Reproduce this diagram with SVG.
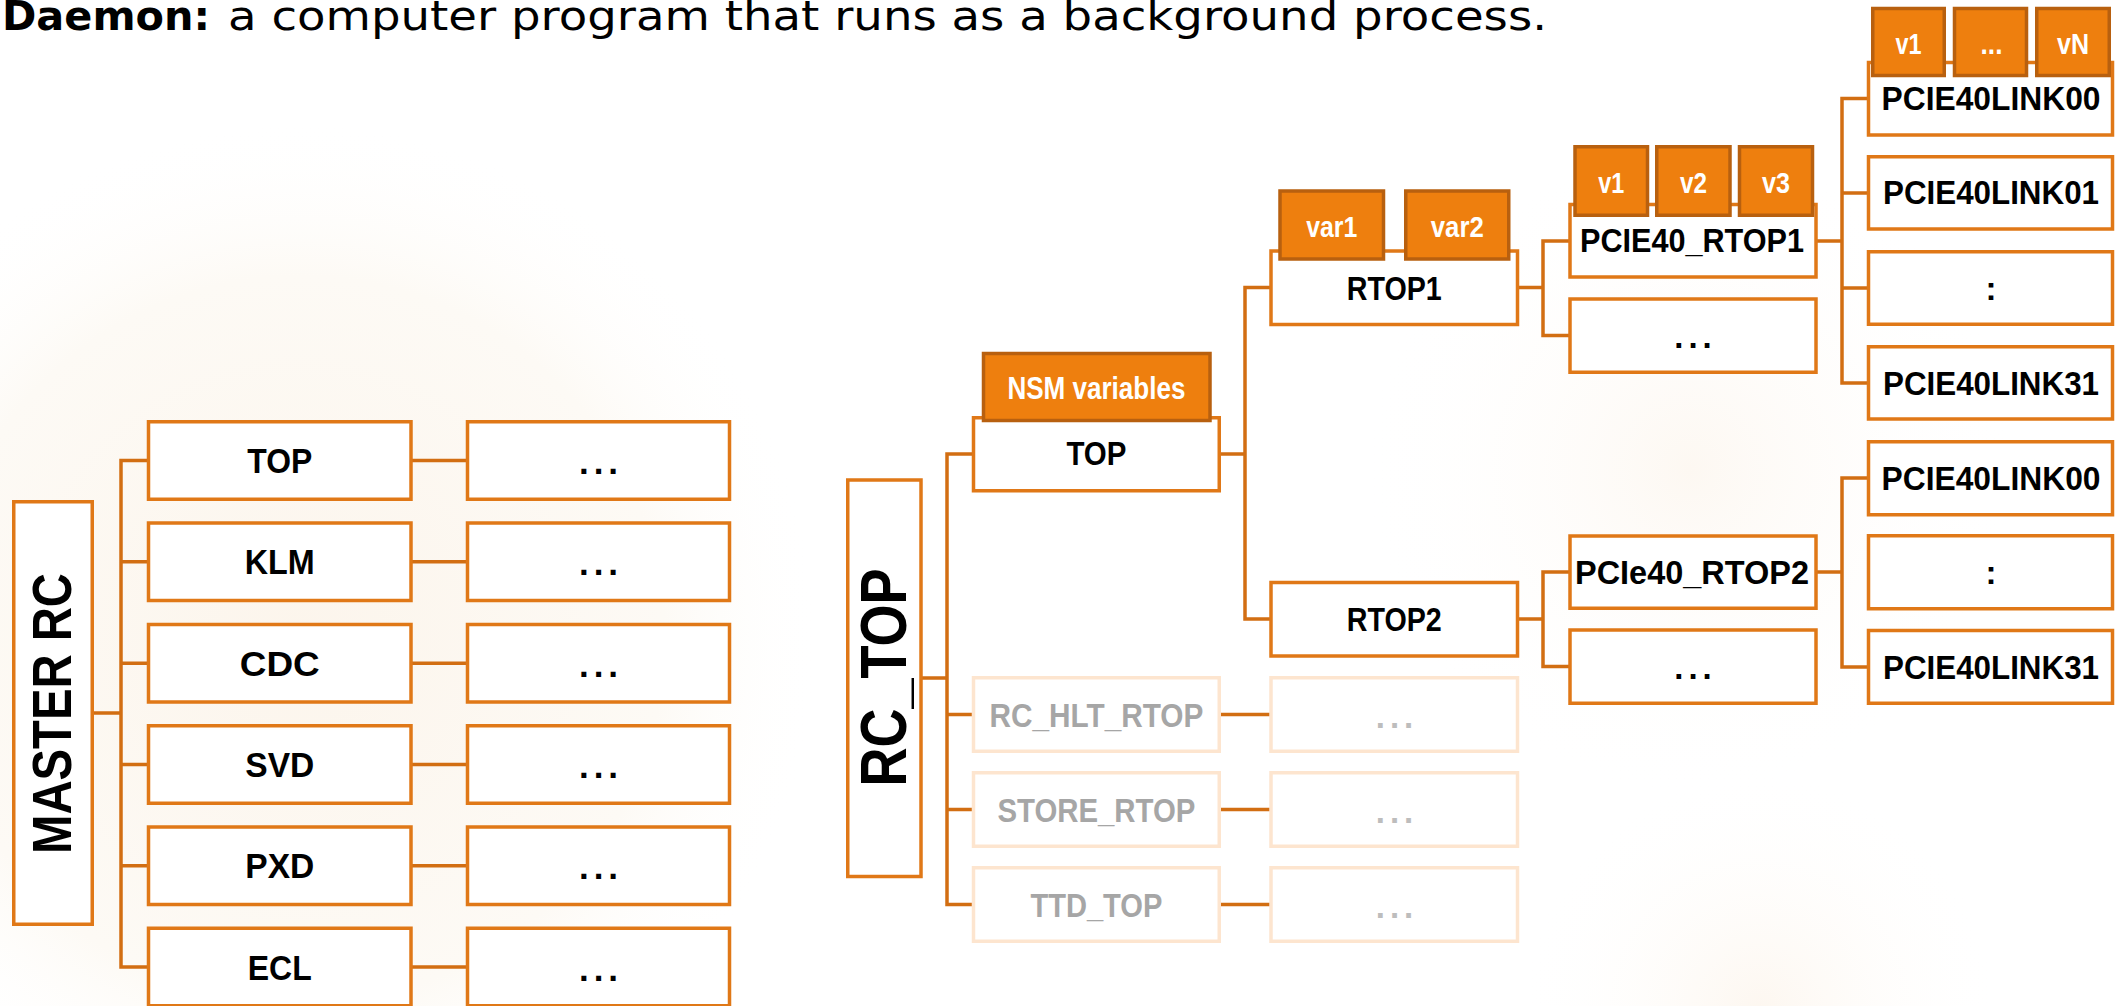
<svg xmlns="http://www.w3.org/2000/svg" width="2116" height="1006" viewBox="0 0 2116 1006">
<defs>
<radialGradient id="glowL" cx="300" cy="640" r="520" gradientUnits="userSpaceOnUse">
<stop offset="0" stop-color="#FCF5EC"/>
<stop offset="0.7" stop-color="#FDFAF5"/>
<stop offset="1" stop-color="#FFFFFF" stop-opacity="0"/>
</radialGradient>
<radialGradient id="glowR" cx="1690" cy="470" r="330" gradientUnits="userSpaceOnUse">
<stop offset="0" stop-color="#FDF8F2"/>
<stop offset="1" stop-color="#FFFFFF" stop-opacity="0"/>
</radialGradient>
<radialGradient id="glowB" cx="1760" cy="1010" r="240" gradientUnits="userSpaceOnUse">
<stop offset="0" stop-color="#FDF7F0"/>
<stop offset="1" stop-color="#FFFFFF" stop-opacity="0"/>
</radialGradient>
</defs>
<style>
.box{fill:#FFFFFF;stroke:#E07817;stroke-width:3.5}
.fbox{fill:#FFFFFF;stroke:#FDE5CF;stroke-width:3.5}
.var{fill:#EE7F0E;stroke:#B8600F;stroke-width:3.5}
.conn{stroke:#D26E12;stroke-width:3.5;fill:none;stroke-linecap:square}
.lbl{font-family:"Liberation Sans",Arial,sans-serif;font-weight:bold;font-size:33px;text-anchor:middle;fill:#000000}
.big{font-size:35px}
.flbl{fill:#A6A6A6}
.fdots{fill:#BDBDBD}
.vlbl{fill:#FFFFFF;font-size:30px}
.dots{letter-spacing:5px}
.title{font-family:"DejaVu Sans","Liberation Sans",sans-serif;font-size:40px;fill:#000000}
</style>
<rect x="0" y="0" width="2116" height="1006" fill="#FFFFFF"/>
<rect x="0" y="0" width="2116" height="1006" fill="url(#glowL)"/>
<rect x="0" y="0" width="2116" height="1006" fill="url(#glowR)"/>
<rect x="0" y="0" width="2116" height="1006" fill="url(#glowB)"/>

<g id="title">
<text class="title" x="2" y="30" font-weight="bold" textLength="208" lengthAdjust="spacingAndGlyphs">Daemon:</text>
<text class="title" x="228" y="30" textLength="1319" lengthAdjust="spacingAndGlyphs">a computer program that runs as a background process.</text>
</g>

<g id="connectors">
<path class="conn" d="M94 713H121M121 460.5V967M121 460.5H147M121 561.75H147M121 663.25H147M121 764.5H147M121 865.75H147M121 967H147"/>
<path class="conn" d="M412 460.5H466M412 561.75H466M412 663.25H466M412 764.5H466M412 865.75H466M412 967H466"/>
<path class="conn" d="M922 678H947M947 454V904.5M947 454H972M947 714.5H972M947 809.5H972M947 904.5H972"/>
<path class="conn" d="M1221 714.5H1269M1221 809.5H1269M1221 904.5H1269"/>
<path class="conn" d="M1221 454H1245M1245 287.5V619M1245 287.5H1269M1245 619H1269"/>
<path class="conn" d="M1519 287.5H1543M1543 241V335.5M1543 241H1568M1543 335.5H1568"/>
<path class="conn" d="M1519 619H1543M1543 572V666.5M1543 572H1568M1543 666.5H1568"/>
<path class="conn" d="M1817 241H1842M1842 98.5V383M1842 98.5H1867M1842 193H1867M1842 288H1867M1842 383H1867"/>
<path class="conn" d="M1817 572H1842M1842 478V667M1842 478H1867M1842 667H1867"/>
</g>

<g id="master-rc">
<rect class="box" x="13.75" y="501.75" width="78.5" height="422.5"/>
<text class="lbl" transform="translate(71 713.5) rotate(-90)" textLength="281" lengthAdjust="spacingAndGlyphs" style="font-size:55px">MASTER RC</text>
</g>

<g id="m-top"><rect class="box" x="148.5" y="421.75" width="262.5" height="77.5"/><text class="lbl big" x="279.75" y="473" textLength="65" lengthAdjust="spacingAndGlyphs">TOP</text></g>
<g id="m-klm"><rect class="box" x="148.5" y="523" width="262.5" height="77.5"/><text class="lbl big" x="279.75" y="574.25" textLength="70" lengthAdjust="spacingAndGlyphs">KLM</text></g>
<g id="m-cdc"><rect class="box" x="148.5" y="624.5" width="262.5" height="77.5"/><text class="lbl big" x="279.75" y="675.75" textLength="80" lengthAdjust="spacingAndGlyphs">CDC</text></g>
<g id="m-svd"><rect class="box" x="148.5" y="725.75" width="262.5" height="77.5"/><text class="lbl big" x="279.75" y="777" textLength="69" lengthAdjust="spacingAndGlyphs">SVD</text></g>
<g id="m-pxd"><rect class="box" x="148.5" y="827" width="262.5" height="77.5"/><text class="lbl big" x="279.75" y="878.25" textLength="69" lengthAdjust="spacingAndGlyphs">PXD</text></g>
<g id="m-ecl"><rect class="box" x="148.5" y="928.25" width="262.5" height="77.5"/><text class="lbl big" x="279.75" y="979.5" textLength="64" lengthAdjust="spacingAndGlyphs">ECL</text></g>

<g id="m-top-sub"><rect class="box" x="467.5" y="421.75" width="262" height="77.5"/><text class="lbl big dots" x="601" y="474">...</text></g>
<g id="m-klm-sub"><rect class="box" x="467.5" y="523" width="262" height="77.5"/><text class="lbl big dots" x="601" y="575.25">...</text></g>
<g id="m-cdc-sub"><rect class="box" x="467.5" y="624.5" width="262" height="77.5"/><text class="lbl big dots" x="601" y="676.75">...</text></g>
<g id="m-svd-sub"><rect class="box" x="467.5" y="725.75" width="262" height="77.5"/><text class="lbl big dots" x="601" y="778">...</text></g>
<g id="m-pxd-sub"><rect class="box" x="467.5" y="827" width="262" height="77.5"/><text class="lbl big dots" x="601" y="879.25">...</text></g>
<g id="m-ecl-sub"><rect class="box" x="467.5" y="928.25" width="262" height="77.5"/><text class="lbl big dots" x="601" y="980.5">...</text></g>

<g id="rc-top">
<rect class="box" x="847.75" y="480" width="73.25" height="396.5"/>
<text class="lbl" transform="translate(906 677.5) rotate(-90)" textLength="218" lengthAdjust="spacingAndGlyphs" style="font-size:64px">RC_TOP</text>
</g>

<g id="top">
<rect class="box" x="973.5" y="417.75" width="245.75" height="73"/>
<text class="lbl" x="1096.4" y="465" textLength="60" lengthAdjust="spacingAndGlyphs">TOP</text>
<rect class="var" x="983.5" y="353.5" width="226.5" height="67"/>
<text class="lbl vlbl" x="1096.4" y="399" textLength="178" lengthAdjust="spacingAndGlyphs" style="font-size:31px">NSM variables</text>
</g>

<g id="rc-hlt-rtop"><rect class="fbox" x="973.5" y="677.75" width="245.75" height="73.5"/><text class="lbl flbl" x="1096.4" y="726.5" textLength="214" lengthAdjust="spacingAndGlyphs">RC_HLT_RTOP</text></g>
<g id="store-rtop"><rect class="fbox" x="973.5" y="772.75" width="245.75" height="73.5"/><text class="lbl flbl" x="1096.4" y="821.5" textLength="198" lengthAdjust="spacingAndGlyphs">STORE_RTOP</text></g>
<g id="ttd-top"><rect class="fbox" x="973.5" y="867.75" width="245.75" height="73.5"/><text class="lbl flbl" x="1096.4" y="916.5" textLength="132" lengthAdjust="spacingAndGlyphs">TTD_TOP</text></g>
<g id="rc-hlt-sub"><rect class="fbox" x="1271" y="677.75" width="246.5" height="73.5"/><text class="lbl fdots dots" x="1397" y="728">...</text></g>
<g id="store-sub"><rect class="fbox" x="1271" y="772.75" width="246.5" height="73.5"/><text class="lbl fdots dots" x="1397" y="823">...</text></g>
<g id="ttd-sub"><rect class="fbox" x="1271" y="867.75" width="246.5" height="73.5"/><text class="lbl fdots dots" x="1397" y="918">...</text></g>

<g id="rtop1">
<rect class="box" x="1271" y="251" width="246.5" height="73.5"/>
<text class="lbl" x="1394.3" y="299.5" textLength="95" lengthAdjust="spacingAndGlyphs">RTOP1</text>
<rect class="var" x="1280" y="191" width="103.5" height="68"/>
<text class="lbl vlbl" x="1331.8" y="236.7" textLength="51" lengthAdjust="spacingAndGlyphs">var1</text>
<rect class="var" x="1405.75" y="191" width="103" height="68"/>
<text class="lbl vlbl" x="1457.3" y="236.7" textLength="53" lengthAdjust="spacingAndGlyphs">var2</text>
</g>

<g id="rtop2">
<rect class="box" x="1271" y="582.5" width="246.5" height="73.5"/>
<text class="lbl" x="1394.3" y="631" textLength="95" lengthAdjust="spacingAndGlyphs">RTOP2</text>
</g>

<g id="pcie40-rtop1">
<rect class="box" x="1570" y="204.5" width="246" height="72.5"/>
<text class="lbl" x="1692" y="252" textLength="224" lengthAdjust="spacingAndGlyphs">PCIE40_RTOP1</text>
<rect class="var" x="1575" y="146.75" width="72.5" height="68.5"/>
<text class="lbl vlbl" x="1611.3" y="192.7" textLength="26" lengthAdjust="spacingAndGlyphs">v1</text>
<rect class="var" x="1656.75" y="146.75" width="73.25" height="68.5"/>
<text class="lbl vlbl" x="1693.4" y="192.7" textLength="27" lengthAdjust="spacingAndGlyphs">v2</text>
<rect class="var" x="1739.5" y="146.75" width="73" height="68.5"/>
<text class="lbl vlbl" x="1776" y="192.7" textLength="28" lengthAdjust="spacingAndGlyphs">v3</text>
</g>
<g id="rtop1-more"><rect class="box" x="1570" y="299" width="246" height="73.25"/><text class="lbl dots" x="1695.5" y="348">...</text></g>

<g id="pcie40-rtop2">
<rect class="box" x="1570" y="536" width="246" height="72.25"/>
<text class="lbl" x="1692" y="584" textLength="234" lengthAdjust="spacingAndGlyphs">PCIe40_RTOP2</text>
</g>
<g id="rtop2-more"><rect class="box" x="1570" y="630" width="246" height="73.25"/><text class="lbl dots" x="1695.5" y="679">...</text></g>

<g id="link00-a">
<rect class="box" x="1868.5" y="62.5" width="244" height="72.5"/>
<text class="lbl" x="1991" y="110" textLength="219" lengthAdjust="spacingAndGlyphs">PCIE40LINK00</text>
<rect class="var" x="1872.75" y="8.5" width="71.5" height="67"/>
<text class="lbl vlbl" x="1908.5" y="53.5" textLength="26" lengthAdjust="spacingAndGlyphs">v1</text>
<rect class="var" x="1954.5" y="8.5" width="72" height="67"/>
<text class="lbl vlbl" x="1991.5" y="53.5" textLength="22" lengthAdjust="spacingAndGlyphs">...</text>
<rect class="var" x="2036.75" y="8.5" width="72.5" height="67"/>
<text class="lbl vlbl" x="2073" y="53.5" textLength="32" lengthAdjust="spacingAndGlyphs">vN</text>
</g>
<g id="link01-a"><rect class="box" x="1868.5" y="156.75" width="244" height="72.25"/><text class="lbl" x="1991" y="204" textLength="216" lengthAdjust="spacingAndGlyphs">PCIE40LINK01</text></g>
<g id="linkmid-a"><rect class="box" x="1868.5" y="251.75" width="244" height="72.5"/><text class="lbl" x="1991" y="299.5">:</text></g>
<g id="link31-a"><rect class="box" x="1868.5" y="346.75" width="244" height="72.25"/><text class="lbl" x="1991" y="394.5" textLength="216" lengthAdjust="spacingAndGlyphs">PCIE40LINK31</text></g>

<g id="link00-b"><rect class="box" x="1868.5" y="441.75" width="244" height="73"/><text class="lbl" x="1991" y="490" textLength="219" lengthAdjust="spacingAndGlyphs">PCIE40LINK00</text></g>
<g id="linkmid-b"><rect class="box" x="1868.5" y="535.75" width="244" height="73"/><text class="lbl" x="1991" y="584">:</text></g>
<g id="link31-b"><rect class="box" x="1868.5" y="630.5" width="244" height="72.75"/><text class="lbl" x="1991" y="679" textLength="216" lengthAdjust="spacingAndGlyphs">PCIE40LINK31</text></g>
</svg>
